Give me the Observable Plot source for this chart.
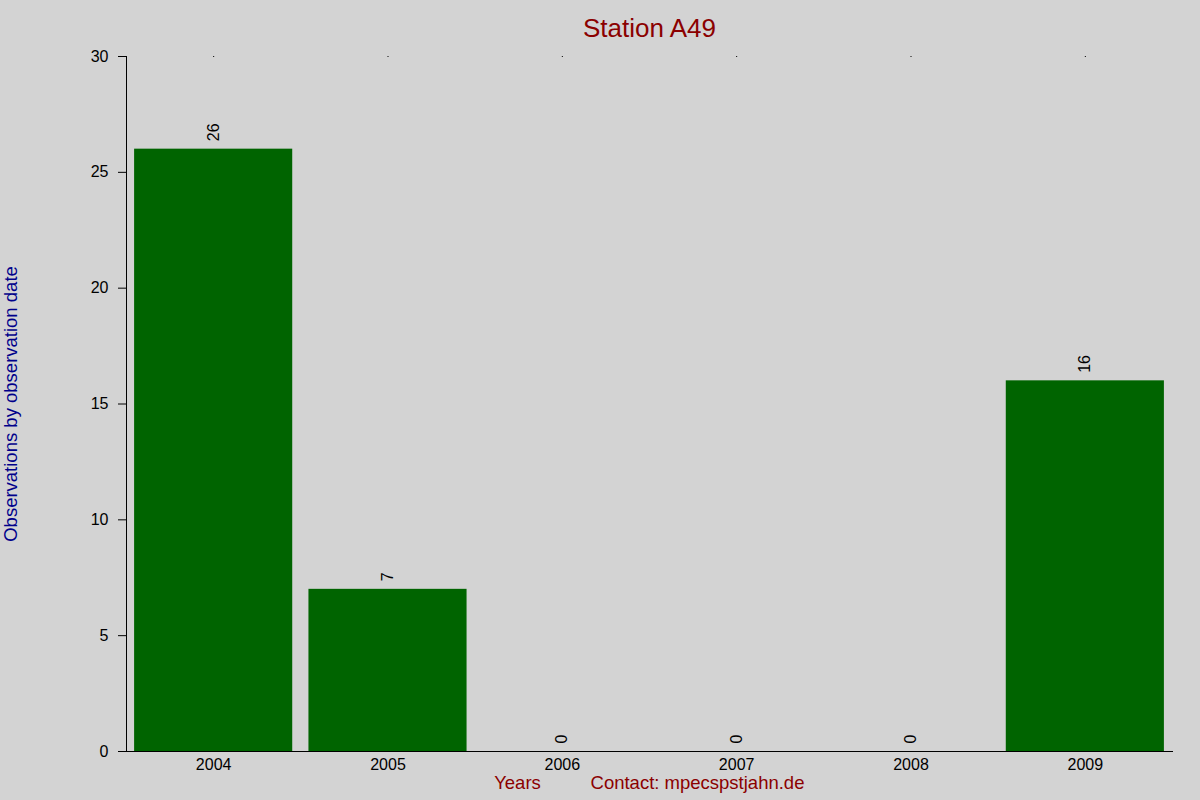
<!DOCTYPE html>
<html>
<head>
<meta charset="utf-8">
<script src="https://cdn.jsdelivr.net/npm/d3@7"></script>
<script src="https://cdn.jsdelivr.net/npm/@observablehq/plot@0.6"></script>
<style>
  html, body { margin: 0; padding: 0; background: #d3d3d3; }
  #chart svg { display: block; }
</style>
</head>
<body>
<div id="chart"></div>
<script>
const years = ["2004", "2005", "2006", "2007", "2008", "2009"];
const counts = [26, 7, 0, 0, 0, 16];
const yTicks = [0, 5, 10, 15, 20, 25, 30];
const titleText = "Station A49";
const yLabelText = "Observations by observation date";
const xLabelText = "Years";
const contactText = "Contact: mpecspstjahn.de";

const data = years.map((y, i) => ({year: y, count: counts[i]}));

const chart = Plot.plot({
  width: 1200,
  height: 800,
  marginTop: 56,
  marginBottom: 49,
  marginLeft: 126,
  marginRight: 28,
  style: {background: "#d3d3d3", fontFamily: "'Liberation Sans', Arial, sans-serif", fontSize: "16px", color: "black"},
  x: {domain: years, paddingInner: 0.093, paddingOuter: 0.0465, align: 0.5, round: false},
  y: {domain: [0, 30]},
  marks: [
    Plot.barY(data, {x: "year", y: "count", fill: "#006400"}),
    Plot.text(data, {x: "year", y: "count", text: d => String(d.count), rotate: -90, textAnchor: "start", dy: -8, fill: "black", fontSize: 16}),
    Plot.axisY({ticks: yTicks, tickSize: 8, tickPadding: 10, label: null, fontSize: 16, stroke: "black"}),
    Plot.axisX({anchor: "bottom", tickSize: 0, tickPadding: 7, label: null, fontSize: 16}),
    Plot.axisX({anchor: "top", tickSize: 1, tickFormat: () => "", label: null, stroke: "black"}),
    Plot.frame({anchor: "left", stroke: "black"}),
    Plot.frame({anchor: "bottom", stroke: "black"}),
    Plot.text([titleText], {frameAnchor: "top", dy: -38, fill: "#8b0000", fontSize: 26}),
    Plot.text([yLabelText], {frameAnchor: "left", dx: -115, rotate: -90, textAnchor: "middle", fill: "#00008b", fontSize: 18.5}),
    Plot.text([xLabelText], {frameAnchor: "bottom-left", dx: 391, dy: 37, textAnchor: "middle", fill: "#8b0000", fontSize: 18.5}),
    Plot.text([contactText], {frameAnchor: "bottom-left", dx: 571, dy: 37, textAnchor: "middle", fill: "#8b0000", fontSize: 18.5})
  ]
});
document.getElementById("chart").appendChild(chart);
</script>
</body>
</html>
